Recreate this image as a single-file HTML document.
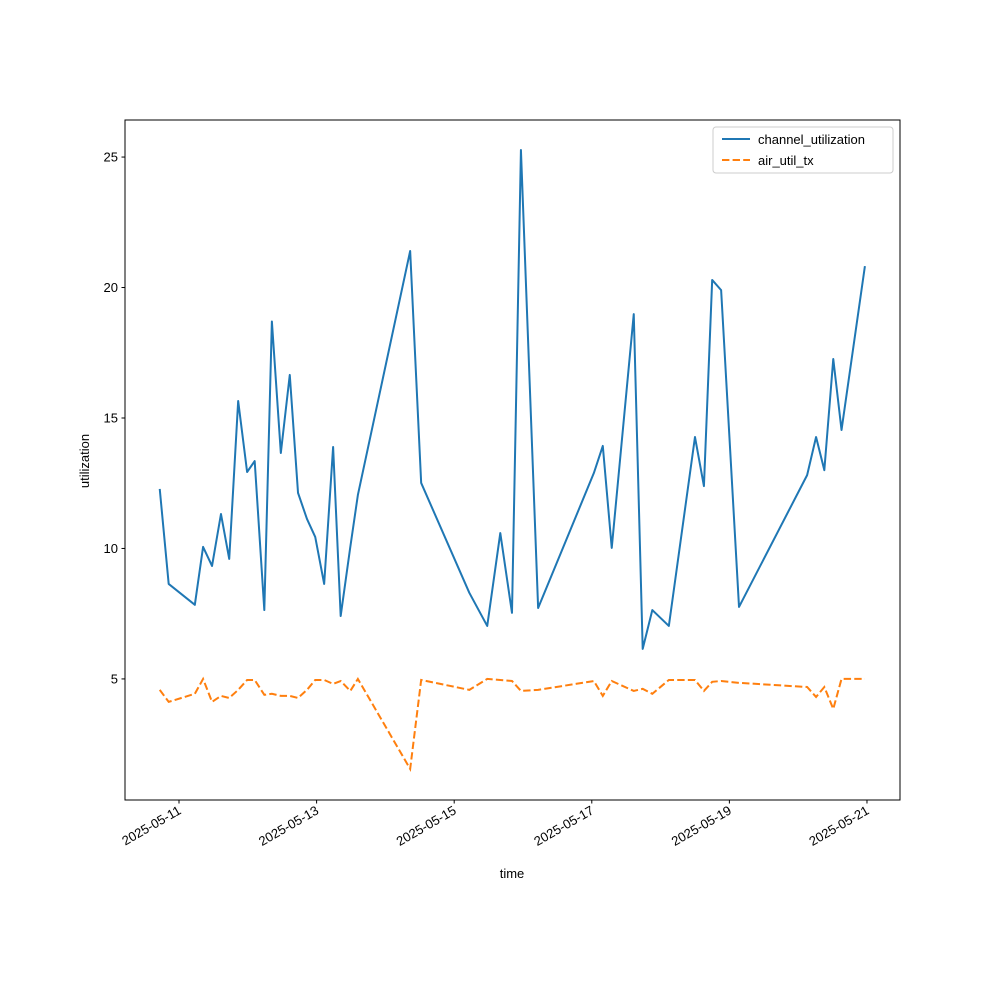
<!DOCTYPE html>
<html><head><meta charset="utf-8"><style>
body{margin:0;background:#fff;font-family:"Liberation Sans","DejaVu Sans",sans-serif}
svg text{font-family:"Liberation Sans","DejaVu Sans",sans-serif;font-size:13px;fill:#000}
</style></head><body>
<svg id="chart" width="1000" height="1000" xmlns="http://www.w3.org/2000/svg">
<rect width="1000" height="1000" fill="#fff"/>
<g id="plot"></g>
</svg>
<script>
const days=[10.72,10.85,11.23,11.35,11.48,11.61,11.73,11.86,11.99,12.10,12.24,12.35,12.48,12.61,12.73,12.86,12.98,13.11,13.24,13.35,13.49,13.60,14.36,14.52,15.22,15.48,15.67,15.84,15.97,16.22,17.03,17.16,17.29,17.61,17.74,17.88,18.12,18.50,18.63,18.75,18.88,19.14,20.13,20.26,20.38,20.51,20.63,20.97];
const channelUtil=[12.28,8.64,7.84,10.06,9.33,11.32,9.6,15.65,12.93,13.35,7.64,18.7,13.66,16.65,12.13,11.13,10.44,8.64,13.89,7.41,10.06,12.05,21.4,12.51,8.3,7.03,10.59,7.53,25.27,7.72,12.89,13.93,10.02,18.98,6.15,7.64,7.03,14.27,12.39,20.29,19.9,7.76,12.81,14.27,13.0,17.26,14.54,20.82];
const airUtilTx=[4.58,4.12,4.43,5.0,4.12,4.35,4.27,4.58,4.96,4.96,4.39,4.43,4.35,4.35,4.27,4.58,4.96,4.96,4.81,4.92,4.54,5.0,1.55,4.96,4.58,5.0,4.96,4.92,4.54,4.58,4.92,4.35,4.92,4.54,4.62,4.43,4.96,4.96,4.54,4.89,4.92,4.85,4.69,4.31,4.69,3.85,5.0,5.0];
const yTicks=[5,10,15,20,25];
const xTickDays=[11,13,15,17,19,21];
const xTickLabels=["2025-05-11","2025-05-13","2025-05-15","2025-05-17","2025-05-19","2025-05-21"];

const L=125,R=900,T=120,B=800;
const xMin=10.215,xMax=21.48,yMin=0.36,yMax=26.42;
const X=d=>L+(d-xMin)/(xMax-xMin)*(R-L);
const Y=v=>B-(v-yMin)/(yMax-yMin)*(B-T);
const NS="http://www.w3.org/2000/svg";
const g=document.getElementById('plot');
function mk(tag,attrs,parent){const e=document.createElementNS(NS,tag);for(const k in attrs)e.setAttribute(k,attrs[k]);(parent||g).appendChild(e);return e;}

const s1=mk('polyline',{points:days.map((d,i)=>X(d)+','+Y(channelUtil[i])).join(' '),fill:'none',stroke:'#1f77b4','stroke-width':2,'stroke-linejoin':'round'});


const s2=mk('polyline',{points:days.map((d,i)=>X(d)+','+Y(airUtilTx[i])).join(' '),fill:'none',stroke:'#ff7f0e','stroke-width':2,'stroke-dasharray':'7.4,3.2'});



const frame=mk('rect',{x:L,y:T,width:R-L,height:B-T,fill:'none',stroke:'#000','stroke-width':1});



yTicks.forEach(v=>{
  const y=Y(v);
  const t=mk('line',{x1:L-3.5,x2:L,y1:y,y2:y,stroke:'#000'});
  
  
  const tx=mk('text',{x:L-7,y:y+4.5,'text-anchor':'end'});tx.textContent=v;
  
  
});
xTickDays.forEach((d,i)=>{
  const x=X(d);
  const t=mk('line',{x1:x,x2:x,y1:B,y2:B+3.5,stroke:'#000'});
  
  
  const tx=mk('text',{x:x+3,y:B+13,'text-anchor':'end',transform:`rotate(-30 ${x+3} ${B+13})`});tx.textContent=xTickLabels[i];
  
  
});
const xt=mk('text',{x:512,y:878,'text-anchor':'middle'});xt.textContent='time';


const yt=mk('text',{x:89,y:461,'text-anchor':'middle',transform:'rotate(-90 89 461)'});yt.textContent='utilization';



const lg=mk('g',{});


mk('rect',{x:713,y:127,width:180,height:46,rx:3,fill:'#fff',stroke:'#ccc'},lg);
mk('line',{x1:722,x2:750,y1:139,y2:139,stroke:'#1f77b4','stroke-width':2},lg);
const l1=mk('text',{x:758,y:144},lg);l1.textContent='channel_utilization';


mk('line',{x1:722,x2:750,y1:160,y2:160,stroke:'#ff7f0e','stroke-width':2,'stroke-dasharray':'7.4,3.2'},lg);
const l2=mk('text',{x:758,y:165},lg);l2.textContent='air_util_tx';


</script>
</body></html>
